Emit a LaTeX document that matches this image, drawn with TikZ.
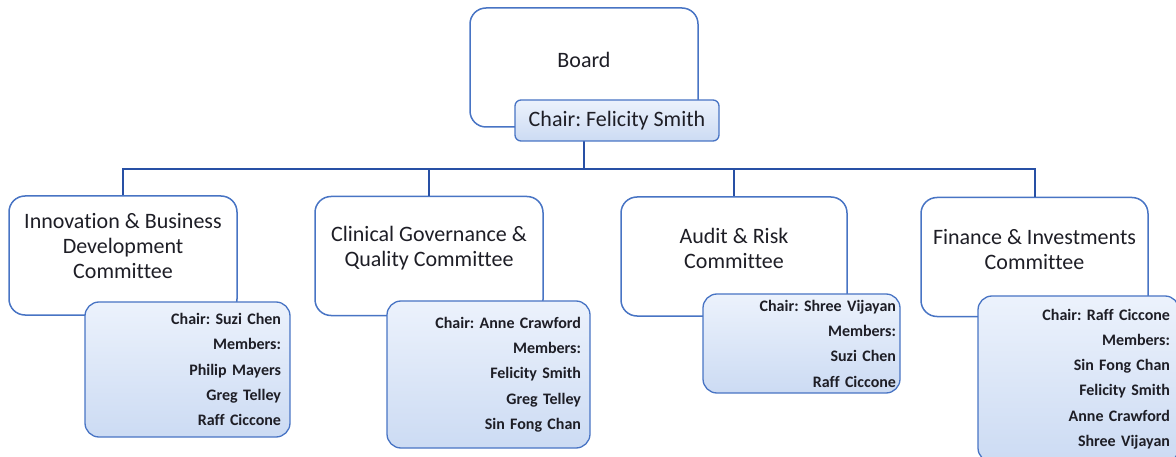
\documentclass[tikz,border=0pt]{standalone}
\usepackage{fontspec}
\setmainfont{Carlito}[Ligatures=NoCommon]
\frenchspacing
\definecolor{boxline}{RGB}{72,116,196}
\definecolor{wire}{RGB}{40,80,165}
\definecolor{fillhi}{RGB}{236,242,252}
\definecolor{filllo}{RGB}{204,219,243}
\definecolor{ink}{RGB}{30,30,38}
\tikzset{
 unit/.style={draw=boxline, line width=1.5pt, rounded corners=16pt, fill=white,
   minimum width=228pt, minimum height=119pt},
 title/.style={align=center, text=ink, font=\fontsize{22}{25}\selectfont},
 chair/.style={draw=boxline, line width=1.3pt, rounded corners=6pt, top color=fillhi,
   bottom color=filllo, text=ink, font=\fontsize{22}{25}\selectfont,
   minimum width=204pt, minimum height=41pt, inner sep=0pt},
 members/.style={draw=boxline, line width=1.3pt, rounded corners=14pt, top color=fillhi,
   bottom color=filllo, align=right, text=ink, inner xsep=9pt,
   font=\fontsize{16}{25.3}\selectfont\bfseries},
 conn/.style={draw=wire, line width=2pt}
}
\begin{document}
\begin{tikzpicture}[x=1pt,y=-1pt]
\useasboundingbox (0,0) rectangle (1176,457);

\node[unit, label={[title, yshift=7.5pt]center:Board}] (board) at (584,67.5) {};

\node[unit, label={[title, yshift=9.5pt]center:{Innovation \& Business\\Development\\Committee}}] (c1) at (123,255.5) {};
\node[unit, label={[title, yshift=7.5pt]center:{Clinical Governance \&\\Quality Committee}}] (c2) at (429,256) {};
\node[unit, minimum width=226pt, label={[title, yshift=8pt]center:{Audit \& Risk\\Committee}}] (c3) at (734,256.5) {};
\node[unit, minimum width=227pt, label={[title, yshift=7.5pt]center:{Finance \& Investments\\Committee}}] (c4) at (1034.5,257) {};

\foreach \c in {c1,c2,c3,c4}
  \draw[conn] (board.south) -- ++(0,41) -| (\c.north);

\node[chair] (bchair) at (617,120.5) {Chair: Felicity Smith};

\node[members, minimum width=205pt, minimum height=135pt, text width=187pt] (m1) at (187.5,369.5)
  {Chair: Suzi Chen\\Members:\\Philip Mayers\\Greg Telley\\Raff Ciccone};
\node[members, minimum width=203pt, minimum height=147pt, text width=185pt] (m2) at (488.5,374.5)
  {Chair: Anne Crawford\\Members:\\Felicity Smith\\Greg Telley\\Sin Fong Chan};
\node[members, minimum width=197pt, minimum height=99pt, text width=189pt, inner xsep=4pt] (m3) at (801.5,343.5)
  {Chair: Shree Vijayan\\Members:\\Suzi Chen\\Raff Ciccone};
\node[members, minimum width=201pt, minimum height=166pt, text width=183pt] (m4) at (1078.5,379)
  {Chair: Raff Ciccone\\Members:\\Sin Fong Chan\\Felicity Smith\\Anne Crawford\\Shree Vijayan};
\end{tikzpicture}
\end{document}
